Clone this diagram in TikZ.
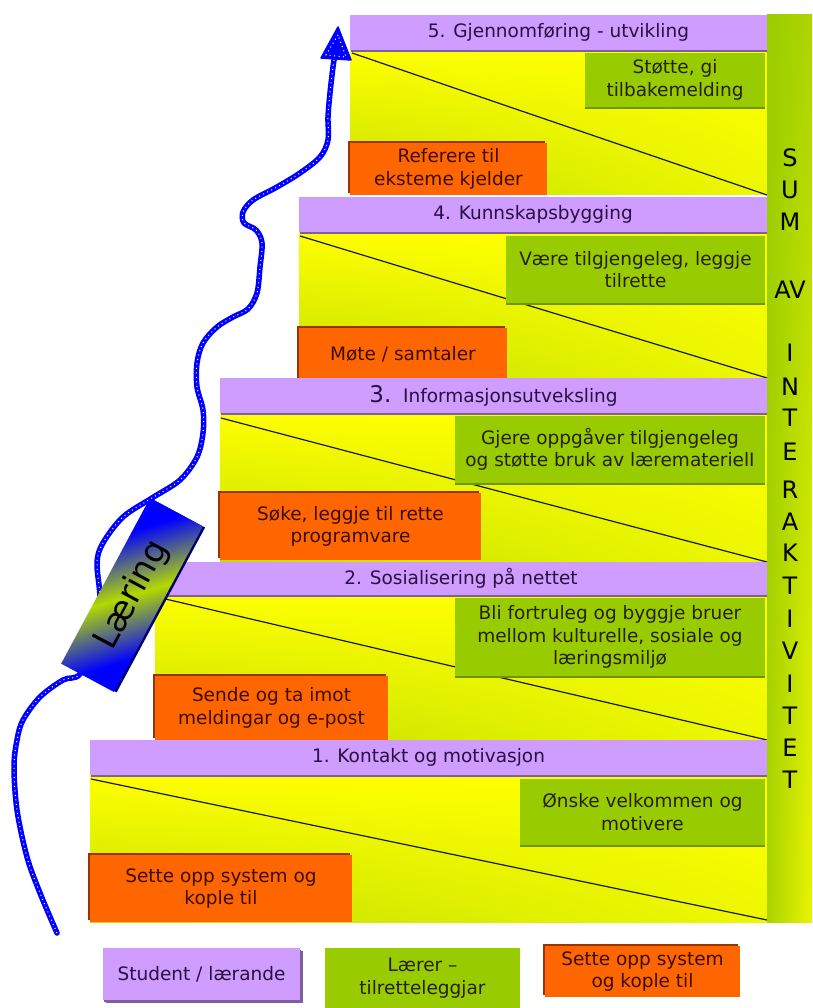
\documentclass[tikz,border=0pt]{standalone}
\usepackage{fontspec}
\setmainfont{DejaVu Sans}
\usetikzlibrary{arrows.meta,shadows,shadings}

\definecolor{lila}{HTML}{CF9CFF}
\definecolor{liladark}{HTML}{7E5E9C}
\definecolor{lime}{HTML}{99CC00}
\definecolor{limedark}{HTML}{6F9400}
\definecolor{orng}{HTML}{FF6600}
\definecolor{orngdark}{HTML}{993300}
\definecolor{ylw}{HTML}{FFFF00}
\definecolor{ylwgreen}{HTML}{C2E000}
\definecolor{ylwgreen2}{HTML}{EEF800}
\definecolor{arrowblue}{HTML}{0000FF}
\definecolor{navy}{HTML}{00006A}
\definecolor{txtlila}{HTML}{2A1040}
\definecolor{txtdark}{HTML}{262000}
\definecolor{txtbrown}{HTML}{3A0C00}

\pgfdeclarehorizontalshading{laering}{100bp}{color(0bp)=(arrowblue); color(25bp)=(arrowblue); color(50bp)=(lime!75!yellow); color(75bp)=(arrowblue); color(100bp)=(arrowblue)}

\tikzset{
  txt/.style={font=\fontsize{18.5}{22.5}\selectfont, align=center, inner sep=0pt},
  levelbar/.style={txt, fill=lila, text=txtlila,
    drop shadow={shadow xshift=1pt, shadow yshift=-2pt, fill=liladark, opacity=1}},
  teacherbox/.style={txt, fill=lime, text=txtdark,
    drop shadow={shadow xshift=0pt, shadow yshift=-2pt, fill=limedark, opacity=1}},
  setupbox/.style={txt, fill=orng, text=txtbrown,
    drop shadow={shadow xshift=-2pt, shadow yshift=2pt, fill=orngdark, opacity=1}},
  stepfield/.style={upper left=ylw, upper right=ylw, lower left=ylwgreen, lower right=ylwgreen2},
  diag/.style={draw=black!90, line width=1.2pt},
  sumletter/.style={font=\fontsize{24}{24}\selectfont, text=black, inner sep=0pt},
  learnarrow/.style={draw=arrowblue, line width=5.5pt, line cap=round, line join=round,
    postaction={draw=white, line width=1pt, line cap=butt, dash pattern=on 1pt off 3.5pt}},
}

\begin{document}
\begin{tikzpicture}[x=1pt,y=1pt]
\useasboundingbox (0,0) rectangle (812,-1008);
\fill[white] (0,0) rectangle (812,-1008);

% ---------- step 5 ----------
\shade[stepfield] (350,-50) rectangle (767,-195);
\coordinate (d5a) at (352,-53);
\coordinate (d5b) at (767,-195);
\draw[diag] (d5a) -- (d5b);
\node[levelbar, minimum width=417, minimum height=35] (lvl5) at (558.5,-32.5) {5. Gjennomføring - utvikling};
\node[teacherbox, minimum width=180, minimum height=54] (tch5) at (675,-80) {Støtte, gi\\tilbakemelding};
\node[setupbox, minimum width=197, minimum height=52] (set5) at (448.5,-169) {Referere til\\eksteme kjelder};

% ---------- step 4 ----------
\shade[stepfield] (299,-232) rectangle (767,-378);
\coordinate (d4a) at (300,-236);
\coordinate (d4b) at (767,-378);
\draw[diag] (d4a) -- (d4b);
\node[levelbar, minimum width=468, minimum height=35] (lvl4) at (533,-214.5) {4. Kunnskapsbygging};
\node[teacherbox, minimum width=259, minimum height=67] (tch4) at (635.5,-269.5) {Være tilgjengeleg, leggje\\tilrette};
\node[setupbox, minimum width=208, minimum height=52] (set4) at (403,-354) {Møte / samtaler};

% ---------- step 3 ----------
\shade[stepfield] (220,-413) rectangle (767,-562);
\coordinate (d3a) at (221,-418);
\coordinate (d3b) at (767,-562);
\draw[diag] (d3a) -- (d3b);
\node[levelbar, minimum width=547, minimum height=35] (lvl3) at (493.5,-395.5) {{\fontsize{23}{23}\selectfont 3.}\ \ Informasjonsutveksling};
\node[teacherbox, minimum width=310, minimum height=67] (tch3) at (610,-449.5) {Gjere oppgåver tilgjengeleg\\og støtte bruk av lærematerielI};
\node[setupbox, minimum width=261, minimum height=67] (set3) at (350.5,-526.5) {Søke, leggje til rette\\programvare};

% ---------- step 2 ----------
\shade[stepfield] (155,-595) rectangle (767,-740);
\coordinate (d2a) at (157,-597);
\coordinate (d2b) at (767,-740);
\draw[diag] (d2a) -- (d2b);
\node[levelbar, minimum width=612, minimum height=33] (lvl2) at (461,-578.5) {2. Sosialisering på nettet};
\node[teacherbox, minimum width=310, minimum height=78] (tch2) at (610,-637) {Bli fortruleg og byggje bruer\\mellom kulturelle, sosiale og\\læringsmiljø};
\node[setupbox, minimum width=233, minimum height=64] (set2) at (271.5,-708) {Sende og ta imot\\meldingar og e-post};

% ---------- step 1 ----------
\shade[stepfield] (90,-775) rectangle (767,-922);
\coordinate (d1a) at (91,-779);
\coordinate (d1b) at (767,-920);
\draw[diag] (d1a) -- (d1b);
\node[levelbar, minimum width=677, minimum height=35] (lvl1) at (428.5,-757.5) {1. Kontakt og motivasjon};
\node[teacherbox, minimum width=245, minimum height=66] (tch1) at (642.5,-812) {Ønske velkommen og\\motivere};
\node[setupbox, minimum width=262, minimum height=67] (set1) at (221,-888.5) {Sette opp system og\\kople til};

% ---------- sum bar ----------
\shade[upper left=lime, upper right=lime!80!yellow, lower left=lime!85!yellow, lower right=ylw!80!lime] (767,-15) rectangle (812,-922);
\foreach \t/\yy [count=\i] in {S/158,U/190,M/222,AV/290,I/353,N/387,T/418,E/452,R/490,A/522,K/553,T/586,I/619,V/651,I/684,T/716,E/748,T/780}
  \node[sumletter] (sum\i) at (790,-\yy) {\t};

% ---------- learning arrow ----------
\draw[learnarrow] plot[smooth, tension=0.55] coordinates {
  (57,-933) (40,-893) (27,-857) (17,-810) (14,-767) (17,-740) (23,-720) (40,-697)
  (63,-680) (80,-674) (95,-640) (100,-600) (97,-563) (103,-543) (123,-517) (152,-498)
  (180,-480) (197,-457) (203,-433) (203,-410) (197,-387) (197,-363) (203,-343)
  (217,-327) (233,-317) (248,-309) (257,-293) (260,-267) (262,-243) (256,-230)
  (244,-223) (243,-212) (253,-200) (277,-187) (300,-173) (320,-157) (328,-140)
  (328,-117) (330,-93) (333,-67) (335,-54)};
\coordinate (tip) at (338,-27);
\coordinate (tipl) at (321,-58);
\coordinate (tipr) at (351,-60);
\filldraw[arrowblue, line width=1.5pt, line join=round] (tip) -- (tipl) -- (tipr) -- cycle;
\draw[white, line width=1pt, dash pattern=on 1pt off 3.5pt] (338,-35) -- (326,-55) -- (346,-57) -- cycle;

% ---------- learning label ----------
\begin{scope}[transform canvas={shift={(132,-595)}, rotate=61.8}]
  \fill[navy] (-93,-32.5) rectangle (94,28);
  \shade[shading=laering, shading angle=45] (-94,-30) rectangle (94,30);
  \node[font=\fontsize{34}{34}\selectfont, inner sep=0pt] (laering) at (0,0) {Læring};
\end{scope}

% ---------- legend ----------
\node[levelbar, minimum width=197, minimum height=52,
  drop shadow={shadow xshift=2.5pt, shadow yshift=-2.5pt, fill=liladark, opacity=1}] (legstud) at (201.5,-974) {Student / lærande};
\node[txt, fill=lime, text=txtdark, minimum width=195, minimum height=60] (legteach) at (422.5,-978) {Lærer –\\tilretteleggjar};
\node[setupbox, minimum width=195, minimum height=51] (legsetup) at (642.5,-971.5) {Sette opp system\\og kople til};
\end{tikzpicture}
\end{document}
